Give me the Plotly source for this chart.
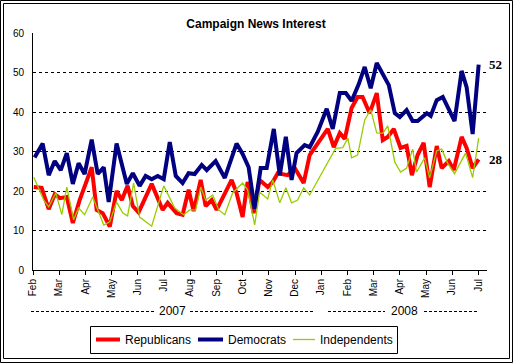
import plotly.graph_objects as go

# Month ticks (index 0 = Feb 2007)
month_labels = ["Feb", "Mar", "Apr", "May", "Jun", "Jul", "Aug", "Sep", "Oct", "Nov", "Dec",
                "Jan", "Feb", "Mar", "Apr", "May", "Jun", "Jul"]
month_ticks = list(range(len(month_labels)))
y_ticks = [0, 10, 20, 30, 40, 50, 60]

# Democrats (x in months since Feb 2007, value in %)
dem_x = [0.06, 0.37, 0.60, 0.83, 1.06, 1.29, 1.52, 1.74, 1.97, 2.24, 2.47, 2.70, 2.89, 3.19, 3.58,
         3.81, 4.07, 4.30, 4.53, 4.76, 4.99, 5.22, 5.45, 5.71, 5.94, 6.17, 6.44, 6.63, 6.97, 7.32,
         7.77, 8.00, 8.23, 8.46, 8.69, 8.92, 9.19, 9.42, 9.65, 9.87, 10.06, 10.37, 10.56, 10.87,
         11.21, 11.44, 11.71, 11.94, 12.16, 12.43, 12.66, 12.89, 13.12, 13.58, 13.81, 14.00,
         14.26, 14.49, 14.68, 15.03, 15.18, 15.41, 15.64, 16.09, 16.36, 16.55, 16.78, 17.01]
dem_y = [28.5, 32, 24, 27.6, 25.3, 29.6, 21.8, 27, 24.3, 33, 24.3, 26, 17.2, 32, 21.8,
         24.5, 21.3, 23.8, 23, 23.8, 23, 32.4, 23.8, 22, 24.5, 24.3, 26.6, 25.3, 27.6, 23.3,
         32, 29.4, 26, 15.5, 25.8, 25.8, 35.7, 24, 33.7, 22.8, 29.6, 31.6, 31.1, 35,
         40.8, 35.7, 44.8, 44.8, 42.8, 47, 51.4, 46, 52.4, 46.8, 39.7, 38.7,
         40.5, 37.7, 37.7, 39.7, 39, 43, 43.8, 37.7, 50.4, 46.3, 34.4, 52]

# Republicans
rep_x = [0.03, 0.33, 0.60, 0.83, 1.02, 1.29, 1.52, 1.78, 2.24, 2.43, 2.66, 2.93, 3.19, 3.39, 3.61,
         3.81, 4.03, 4.53, 4.95, 5.14, 5.48, 5.71, 5.94, 6.13, 6.40, 6.59, 6.82, 7.01, 7.58, 7.77,
         8.00, 8.19, 8.42, 8.65, 8.96, 9.15, 9.34, 9.72, 9.99, 10.33, 10.56, 11.25, 11.48, 11.71,
         11.90, 12.16, 12.39, 12.58, 12.85, 13.12, 13.35, 13.54, 13.77, 14.03, 14.26, 14.46,
         14.68, 14.91, 15.14, 15.41, 15.60, 15.87, 16.06, 16.36, 16.55, 16.78, 17.01]
rep_y = [21, 20.8, 15.4, 19.2, 18.2, 18.5, 11.9, 17.7, 26, 15.2, 14.4, 11, 20, 17.7, 21.3,
         16.2, 14.6, 21.8, 15.2, 17, 14.4, 14, 20.3, 14.9, 22.8, 16.2, 17.7, 15.2, 22.8, 19.5,
         13.4, 22.3, 14.4, 22.8, 21, 22.3, 24.5, 24, 25.8, 22, 29.1, 35.7, 31.1, 34.7,
         33.2, 41, 43.8, 43.8, 39.7, 44.8, 32.9, 33.7, 35.7, 30.9, 31.4, 24,
         29.1, 32.2, 21, 31.4, 25.8, 27.6, 25.3, 33.7, 30.9, 25.8, 28]

# Independents
ind_x = [0.03, 0.41, 0.60, 0.87, 1.10, 1.29, 1.55, 1.74, 1.97, 2.28, 2.70, 2.93, 3.19, 3.43, 3.61,
         3.84, 4.07, 4.53, 4.99, 5.22, 5.41, 5.75, 5.98, 6.21, 6.40, 6.59, 6.86, 7.09, 7.32, 7.62,
         8.00, 8.19, 8.46, 8.65, 8.96, 9.15, 9.42, 9.65, 9.87, 10.10, 10.33, 10.56, 11.02, 11.32,
         11.55, 11.82, 12.02, 12.16, 12.39, 12.66, 12.89, 13.12, 13.35, 13.54, 13.81, 14.03,
         14.26, 14.49, 14.64, 14.95, 15.14, 15.41, 15.60, 15.83, 16.09, 16.51, 16.78, 17.01]
ind_y = [23.5, 17.7, 16, 19.5, 14, 21, 12.7, 15.7, 14, 18.5, 11.4, 12.2, 17.2, 14.4, 13.7,
         22, 13.4, 11.1, 21.3, 18.2, 15.7, 14, 15.2, 15.2, 21, 17.7, 19, 15.2, 14, 19.5,
         22, 20.3, 11.4, 19.7, 18, 22.8, 17, 20.8, 17, 17.7, 20.8, 19, 24.5, 28.4,
         30.8, 31, 33.4, 28.4, 29.1, 38, 40.6, 34.7, 34.6, 36.5, 27.3, 24.8,
         25.8, 30.6, 24.8, 28.4, 23.3, 30.2, 30.6, 27, 24.4, 29.6, 23.4, 33.4]

series_names = ["Republicans", "Democrats", "Independents"]
series_colors = ["#FF0000", "#000080", "#99CC00"]
series_widths = [4, 4, 1.3]

W, H = 514, 364
ML, MR, MT, MB = 33, 27, 33, 94
PW, PH = W - ML - MR, H - MT - MB
PX_PER_MONTH = 26.2


def px(xp):
    return (xp - ML) / PW


def py(yp):
    return (H - MB - yp) / PH


fig = go.Figure()
for name, xs, ys, col, lw in zip(series_names, [rep_x, dem_x, ind_x], [rep_y, dem_y, ind_y],
                                 series_colors, series_widths):
    fig.add_trace(go.Scatter(x=xs, y=ys, name=name, mode="lines", showlegend=False,
                             line=dict(color=col, width=lw)))

# End labels
end_font = dict(family="Liberation Serif", size=13, color="black")
fig.add_annotation(x=dem_x[-1], y=dem_y[-1], text="<b>52</b>", showarrow=False, xanchor="left",
                   xshift=8, font=end_font)
fig.add_annotation(x=rep_x[-1], y=rep_y[-1], text="<b>28</b>", showarrow=False, xanchor="left",
                   xshift=8, font=end_font)

# Year labels
yr_font = dict(family="Liberation Sans", size=12, color="black")
fig.add_annotation(xref="paper", yref="paper", x=px(172), y=py(311), text="2007",
                   showarrow=False, font=yr_font, xanchor="center", yanchor="middle")
fig.add_annotation(xref="paper", yref="paper", x=px(404), y=py(311), text="2008",
                   showarrow=False, font=yr_font, xanchor="center", yanchor="middle")
for x0, x1 in [(31, 155), (190, 314), (328, 385), (424, 477)]:
    fig.add_shape(type="line", xref="paper", yref="paper", x0=px(x0), x1=px(x1),
                  y0=py(311.5), y1=py(311.5), line=dict(color="black", width=1, dash="3px,2px"))

# Legend (box, swatches, labels)
fig.add_shape(type="rect", xref="paper", yref="paper", x0=px(90.5), x1=px(397.5),
              y0=py(326.5), y1=py(353.5), line=dict(color="black", width=1), fillcolor="white")
leg_swatch = [(96, 120), (198, 223), (293, 315)]
leg_text_x = [123, 226, 318]
for name, col, lw, (s0, s1), tx in zip(series_names, series_colors, series_widths,
                                       leg_swatch, leg_text_x):
    fig.add_shape(type="line", xref="paper", yref="paper", x0=px(s0), x1=px(s1),
                  y0=py(339.5), y1=py(339.5), line=dict(color=col, width=lw))
    fig.add_annotation(xref="paper", yref="paper", x=px(tx), y=py(340), text=name,
                       showarrow=False, xanchor="left", yanchor="middle",
                       font=dict(family="Liberation Sans", size=12, color="black"))

# Double border
for (a, b, c, d) in [(0.5, 0.5, 512.5, 362.5), (3.5, 3.5, 509.5, 358.5)]:
    fig.add_shape(type="rect", xref="paper", yref="paper", x0=px(a), x1=px(c),
                  y0=py(b), y1=py(d), line=dict(color="black", width=1))

fig.update_layout(
    width=W, height=H,
    margin=dict(l=ML, r=MR, t=MT, b=MB),
    paper_bgcolor="white", plot_bgcolor="white",
    title=dict(text="<b>Campaign News Interest</b>", x=px(256), xref="paper", xanchor="center",
               y=1 - 24 / H, yref="container", yanchor="middle",
               font=dict(family="Liberation Sans", size=12, color="black")),
    showlegend=False,
    xaxis=dict(range=[0, PW / PX_PER_MONTH], tickvals=month_ticks, ticktext=month_labels,
               tickangle=-90, ticks="outside", ticklen=4, tickcolor="black",
               showline=True, linecolor="black", linewidth=1, showgrid=False, zeroline=False,
               tickfont=dict(family="Liberation Sans", size=10, color="black"), fixedrange=True),
    yaxis=dict(range=[0, 60], tickvals=y_ticks, ticks="", showline=True, linecolor="black",
               linewidth=1, showgrid=True, gridcolor="black", griddash="3px,3px", gridwidth=1,
               zeroline=False, ticklabelstandoff=6,
               tickfont=dict(family="Liberation Sans", size=10, color="black"), fixedrange=True),
)

fig.write_html("out.html", config={"displayModeBar": False},
               post_script="document.body.style.margin='0';document.body.style.padding='0';")
